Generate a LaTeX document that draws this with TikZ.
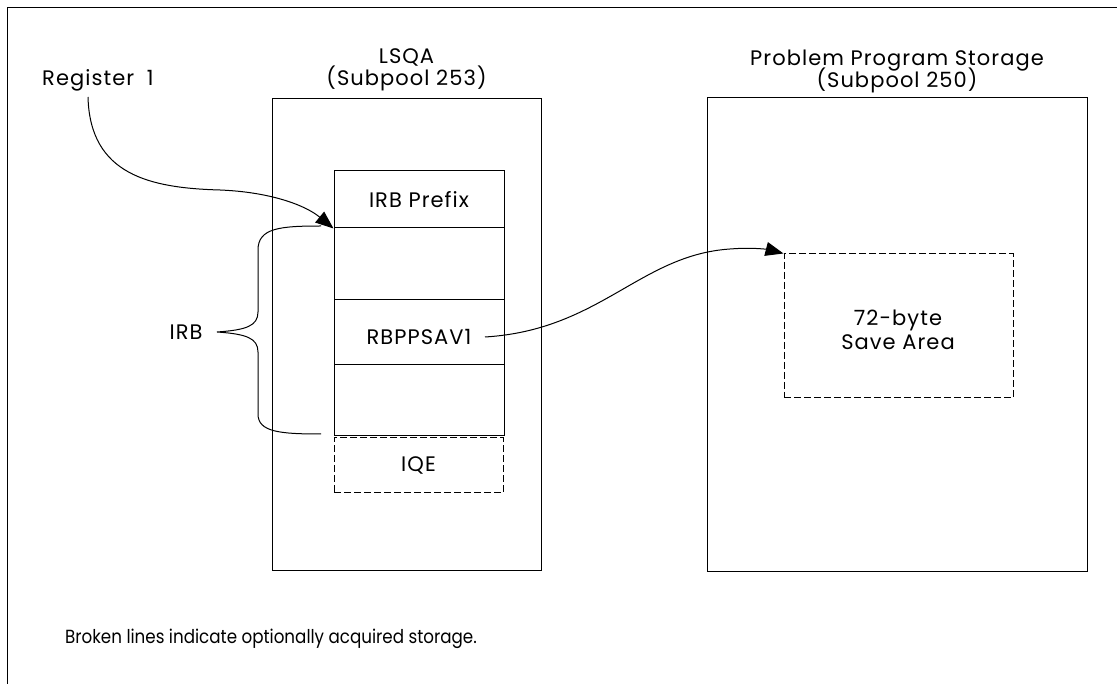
\documentclass[tikz,border=0pt]{standalone}
\usepackage{fontspec}
\setmainfont[LetterSpace=5]{Poppins}
\newfontfamily\notefont[FakeStretch=0.88]{Poppins}
\usetikzlibrary{arrows.meta}
\tikzset{
  every picture/.style={x=1pt,y=-1pt},
  lbl/.style={inner sep=0pt,font=\fontsize{21}{24}\selectfont},
  solidbox/.style={draw,line width=1pt,inner sep=0pt},
  brokenbox/.style={draw,line width=1pt,inner sep=0pt,dash pattern=on 7pt off 3pt},
  ptr/.style={line width=1pt,-{Triangle[length=18pt,width=14pt]}},
  bracepath/.style={line width=1pt},
}
\begin{document}
\begin{tikzpicture}
\useasboundingbox (0,0) rectangle (1117,684);
% page frame (only the top and left edges fall on the page)
\coordinate (fbl) at (7,684);
\coordinate (ftl) at (7,8);
\coordinate (ftr) at (1117,8);
\draw[line width=1pt] (fbl) -- (ftl) -- (ftr);

% LSQA area
\node[solidbox,minimum width=269pt,minimum height=472pt] (lsqa) at (406.5,334.5) {};
\node[lbl,anchor=base] (lsqat) at (406.5,64) {LSQA};
\node[lbl,anchor=base] (lsqas) at (406.5,86) {(Subpool 253)};

% IRB rows
\node[solidbox,minimum width=170pt,minimum height=57pt] (r1) at (419,199.5) {};
\node[lbl] (r1t) at (r1.center) {IRB Prefix};
\node[solidbox,minimum width=170pt,minimum height=72pt] (r2) at (419,264) {};
\node[solidbox,minimum width=170pt,minimum height=65pt] (r3) at (419,332.5) {};
\node[lbl] (sav) at (419,337) {RBPPSAV1};
\node[solidbox,minimum width=170pt,minimum height=71pt] (r4) at (419,400.5) {};
\node[brokenbox,minimum width=169pt,minimum height=55pt] (iqe) at (418.5,465.5) {};
\node[lbl] (iqet) at (iqe.center) {IQE};

% problem program storage
\node[solidbox,minimum width=380pt,minimum height=473pt] (pps) at (897,334.5) {};
\node[lbl,anchor=base] (ppst) at (897,66) {Problem Program Storage};
\node[lbl,anchor=base] (ppss) at (897,88) {(Subpool 250)};
\node[brokenbox,minimum width=229pt,minimum height=144pt] (sa) at (898.5,326) {};
\node[lbl,anchor=base] (sa1) at (898,326) {72-byte};
\node[lbl,anchor=base] (sa2) at (898,350) {Save Area};

% register 1 pointer
\node[lbl,anchor=base west] (reg) at (42,86) {Register\hspace{6pt} 1};
\coordinate (regout) at (88,97);
\draw[ptr] (regout) .. controls (90,175) and (150,188) .. (220,190)
  .. controls (270,192) and (305,205) .. (r1.south west);

% IRB brace and label
\node[lbl] (irb) at (186,332) {IRB};
\coordinate (btip) at (217,332);
\coordinate (btop) at (321,226);
\coordinate (bbot) at (321,434);
\draw[bracepath] (btop) .. controls (280,226) and (258,228) .. (258,250)
  -- (258,312) .. controls (258,326) and (246,330) .. (btip)
  .. controls (246,334) and (258,338) .. (258,352)
  -- (258,414) .. controls (258,432) and (280,434) .. (bbot);

% save area pointer
\coordinate (savout) at (485,337);
\draw[ptr] (savout) .. controls (600,330) and (640,255) .. (730,249)
  .. controls (755,247) and (770,250) .. (sa.north west);

% note
\node[inner sep=0pt,anchor=base west,font=\notefont\fontsize{19}{22}\selectfont] (note) at (65,643)
  {Broken lines indicate optionally acquired storage.};
\end{tikzpicture}
\end{document}
